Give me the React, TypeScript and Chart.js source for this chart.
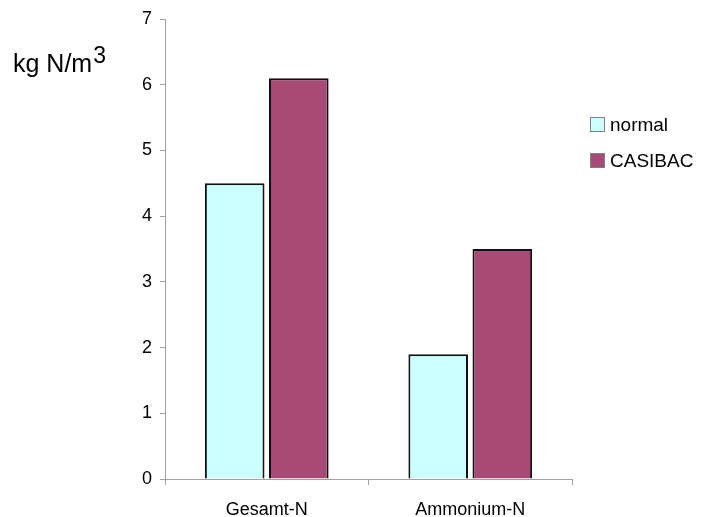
import React, { useEffect, useRef } from "react";
import { Chart, registerables } from "chart.js";

Chart.register(...registerables);

const categories = ["Gesamt-N", "Ammonium-N"];
const seriesNames = ["normal", "CASIBAC"];
const normalValues = [4.5, 1.9];
const casibacValues = [6.1, 3.5];
const yTicks = [0, 1, 2, 3, 4, 5, 6, 7];
const axisTitle = "kg N/m";
const axisTitleSup = "3";

const FONT = "'Liberation Sans', Arial, sans-serif";
const colors = ["#CCFFFF", "#A84A76"];

const overlayPlugin = {
  id: "overlay",
  afterDraw(chart: any) {
    const ctx = chart.ctx as CanvasRenderingContext2D;
    ctx.save();
    // axis title
    ctx.fillStyle = "#000";
    ctx.textBaseline = "alphabetic";
    ctx.textAlign = "left";
    ctx.font = `25px ${FONT}`;
    ctx.fillText(axisTitle, 13, 72);
    const w = ctx.measureText(axisTitle).width;
    ctx.font = `23px ${FONT}`;
    ctx.fillText(axisTitleSup, 13 + w + 1, 63);
    // legend
    const boxX = 590;
    const boxSize = 15;
    const rows = [117, 153];
    chart.data.datasets.forEach((ds: any, i: number) => {
      const y = rows[i];
      ctx.fillStyle = ds.backgroundColor;
      ctx.fillRect(boxX, y, boxSize, boxSize);
      ctx.strokeStyle = "#808080";
      ctx.lineWidth = 1;
      ctx.strokeRect(boxX + 0.5, y + 0.5, boxSize - 1, boxSize - 1);
      ctx.fillStyle = "#000";
      ctx.font = `19px ${FONT}`;
      ctx.textBaseline = "middle";
      ctx.fillText(ds.label, boxX + 20, y + boxSize / 2 + 1);
    });
    ctx.restore();
  },
};

export default function App() {
  const ref = useRef<HTMLCanvasElement | null>(null);
  useEffect(() => {
    if (!ref.current) return;
    const chart = new Chart(ref.current, {
      type: "bar",
      data: {
        labels: categories,
        datasets: [
          {
            label: seriesNames[0],
            data: normalValues,
            backgroundColor: colors[0],
            borderColor: "#111",
            borderWidth: 2,
            categoryPercentage: 0.63,
            barPercentage: 0.93,
          },
          {
            label: seriesNames[1],
            data: casibacValues,
            backgroundColor: colors[1],
            borderColor: "#111",
            borderWidth: 2,
            categoryPercentage: 0.63,
            barPercentage: 0.93,
          },
        ],
      },
      options: {
        animation: false,
        responsive: false,
        devicePixelRatio: 1,
        layout: { padding: { left: 0, right: 138, top: 19, bottom: 0 } },
        plugins: {
          legend: { display: false },
          tooltip: { enabled: false },
        },
        scales: {
          x: {
            grid: {
              display: true,
              drawOnChartArea: false,
              drawTicks: true,
              tickLength: 6,
              color: "#a0a0a0",
              offset: true,
            },
            border: { display: true, color: "#a0a0a0", width: 1 },
            ticks: {
              color: "#000",
              font: { family: FONT, size: 18 },
              padding: 14,
            },
            afterFit: (s: any) => {
              s.height = 38;
            },
          },
          y: {
            min: 0,
            max: 7,
            afterBuildTicks: (s: any) => {
              s.ticks = yTicks.map((v) => ({ value: v }));
            },
            grid: {
              display: true,
              drawOnChartArea: false,
              drawTicks: true,
              tickLength: 5,
              color: "#a0a0a0",
            },
            border: { display: true, color: "#a0a0a0", width: 1 },
            ticks: {
              color: "#000",
              font: { family: FONT, size: 18 },
              padding: 8,
            },
            afterFit: (s: any) => {
              s.width = 165;
            },
          },
        },
      },
      plugins: [overlayPlugin],
    });
    return () => chart.destroy();
  }, []);
  return (
    <div style={{ position: "fixed", left: 0, top: 0, width: 710, height: 517, background: "#fff" }}>
      <canvas ref={ref} width={710} height={517} style={{ width: 710, height: 517 }} />
    </div>
  );
}
